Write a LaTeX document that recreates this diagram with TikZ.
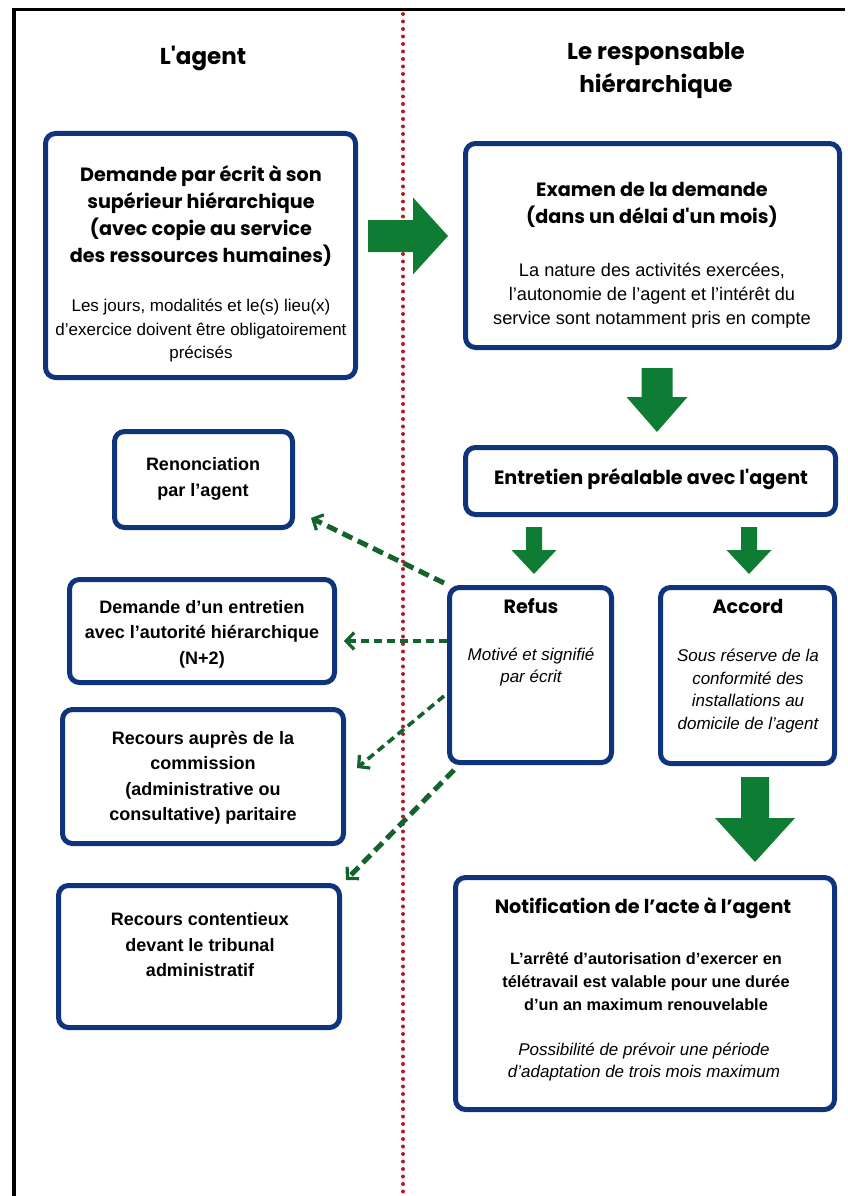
\documentclass[tikz,border=0pt]{standalone}
\usepackage{fontspec}
\setmainfont{Liberation Sans}
\newfontfamily\hfont{Poppins}
\usetikzlibrary{arrows.meta,calc}
\definecolor{navy}{RGB}{16,52,124}
\definecolor{agreen}{RGB}{14,124,50}
\definecolor{dgreen}{RGB}{20,98,44}
\definecolor{dred}{RGB}{178,26,36}
\tikzset{
  box/.style={draw=navy, line width=5pt, rounded corners=10pt, fill=white, inner sep=0pt},
  htext/.style={font=\hfont\bfseries\fontsize{19.2}{27}\selectfont, align=center},
  btext/.style={font=\fontsize{17}{23.5}\selectfont, align=center},
  bbtext/.style={font=\bfseries\fontsize{18}{25.5}\selectfont, align=center},
  nbtext/.style={font=\bfseries\fontsize{16.3}{23}\selectfont, align=center},
  itext/.style={font=\itshape\fontsize{17}{22.5}\selectfont, align=center},
  titletext/.style={font=\hfont\bfseries\fontsize{23}{33}\selectfont, align=center},
  dasharrow/.style={draw=dgreen, line width=5pt, dash pattern=on 11pt off 6pt,
    -{Straight Barb[length=8pt,width=17pt,line width=3.2pt]}},
  thinarrow/.style={dasharrow, line width=3.6pt, dash pattern=on 8pt off 5pt}
}
\newcommand\mybox[5]{\node[box, minimum width={#4-#2-5}, minimum height={#5-#3-5}] (#1) at ({(#2+#4)/2},{(#3+#5)/2}) {};}
\newcommand\barrow[6]{\fill[agreen, shift={(#1)}, rotate=#2] (0,-#4) -- ({#3-#6},-#4) -- ({#3-#6},-#5) -- (#3,0) -- ({#3-#6},#5) -- ({#3-#6},#4) -- (0,#4) -- cycle;}
\begin{document}
\begin{tikzpicture}[x=1pt,y=-1pt]
\useasboundingbox (0,0) rectangle (848,1196);
% frame
\draw[line width=3pt] (12,10) -- (845,10);
\draw[line width=4pt] (14,8.5) -- (14,1196);
% separator
\draw[dred, line width=4pt, dash pattern=on 0pt off 7.5pt, line cap=round] (403,14) -- (403,1196);
% titles
\node[titletext] (t1) at (203,58) {L'agent};
\node[titletext] (t2) at (656,71) {Le responsable\\hiérarchique};
% boxes
\mybox{demande}{43}{131}{358}{380}
\mybox{examen}{463}{141}{842}{350}
\mybox{entretien}{463}{445}{838}{517}
\mybox{refus}{447}{585}{614}{765}
\mybox{accord}{658}{585}{837}{766}
\mybox{notif}{453}{875}{837}{1112}
\mybox{renon}{112}{429}{295}{530}
\mybox{demn2}{67}{577}{337}{685}
\mybox{rcap}{60}{707}{346}{846}
\mybox{rcont}{56}{883}{342}{1030}
% texts
\node[htext] (demande-h) at (201,216) {Demande par écrit à son\\supérieur hiérarchique\\(avec copie au service\\des ressources humaines)};
\node[btext] (demande-b) at (201,331) {Les jours, modalités et le(s) lieu(x)\\d'exercice doivent être obligatoirement\\précisés};
\node[htext] (examen-h) at (652,205) {Examen de la demande\\(dans un délai d'un mois)};
\node[btext, font=\fontsize{18.2}{24}\selectfont] (examen-b) at (652,296) {La nature des activités exercées,\\l'autonomie de l'agent et l'intérêt du\\service sont notamment pris en compte};
\node[htext] (entretien-h) at (651,479) {Entretien préalable avec l'agent};
\node[htext] (refus-h) at (531,606) {Refus};
\node[itext] (refus-b) at (531,667) {Motivé et signifié\\par écrit};
\node[htext] (accord-h) at (748,606) {Accord};
\node[itext] (accord-b) at (748,691) {Sous réserve de la\\conformité des\\installations au\\domicile de l’agent};
\node[htext] (notif-h) at (643,908) {Notification de l’acte à l’agent};
\node[nbtext] (notif-b) at (646,981) {L’arrêté d’autorisation d’exercer en\\télétravail est valable pour une durée\\d’un an maximum renouvelable};
\node[itext] (notif-i) at (644,1062) {Possibilité de prévoir une période\\d’adaptation de trois mois maximum};
\node[bbtext] (renon-t) at (203,479) {Renonciation\\par l’agent};
\node[bbtext] (demn2-t) at (202,634) {Demande d’un entretien\\avec l’autorité hiérarchique\\(N+2)};
\node[bbtext] (rcap-t) at (203,778) {Recours auprès de la\\commission\\(administrative ou\\consultative) paritaire};
\node[bbtext] (rcont-t) at (200,945) {Recours contentieux\\devant le tribunal\\administratif};
% block arrows
\coordinate (r1) at (368,236);
\coordinate (d1) at (657,368);
\coordinate (d2) at (534,527);
\coordinate (d3) at (749,527);
\coordinate (d4) at (755,777);
\barrow{r1}{0}{80}{16}{38.5}{35}
\barrow{d1}{-90}{64}{15.5}{30.5}{35}
\barrow{d2}{-90}{47}{8}{22.5}{24}
\barrow{d3}{-90}{47}{8}{22.5}{24}
\barrow{d4}{-90}{85}{14}{40}{44}
% dashed arrows
\coordinate (a1) at (311,518);
\coordinate (a2) at (344,641);
\coordinate (a3) at (357,768);
\coordinate (a4) at (346,880);
\draw[dasharrow] ([xshift=-3pt,yshift=2pt]refus.north west) -- (a1);
\draw[thinarrow] (refus.west |- a2) -- (a2);
\draw[thinarrow] ([xshift=-3pt,yshift=-21pt]refus.west) -- (a3);
\draw[dasharrow] ([xshift=7pt,yshift=-5pt]refus.south west) -- (a4);
\end{tikzpicture}
\end{document}
